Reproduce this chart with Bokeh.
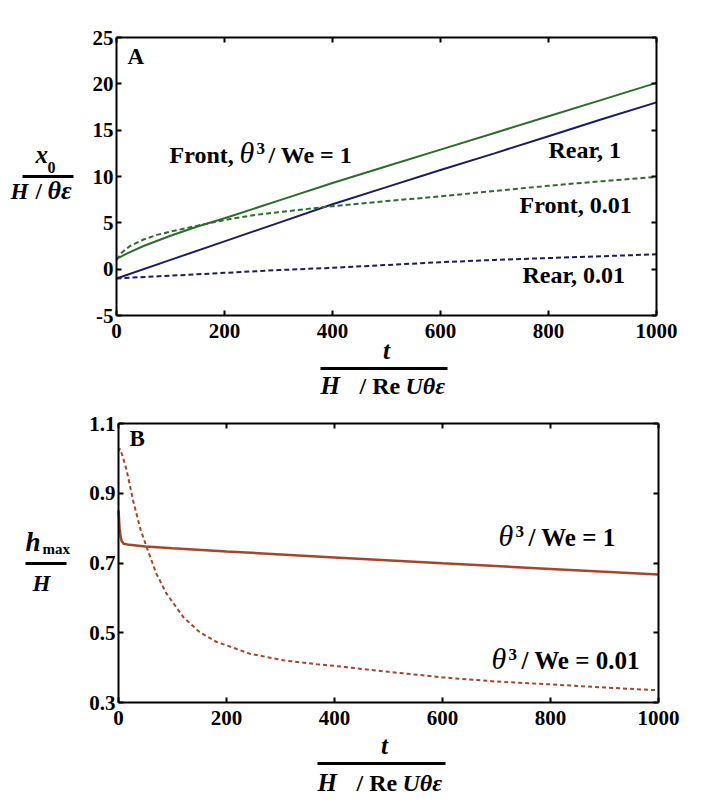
from bokeh.plotting import figure
from bokeh.models import Range1d, LinearAxis, Label, BoxAnnotation, FixedTicker
from bokeh.layouts import column
from bokeh.embed import file_html
from bokeh.resources import INLINE

# ---------------- data: panel A ----------------
t_front1 = [0, 20, 50, 100, 150, 200, 300, 400, 500, 600, 700, 800, 900, 1000]
x_front1 = [1.1, 1.7, 2.5, 3.6, 4.6, 5.5, 7.4, 9.3, 11.1, 12.9, 14.7, 16.5, 18.3, 20.1]

t_rear1 = [0, 100, 200, 300, 400, 500, 600, 700, 800, 900, 1000]
x_rear1 = [-1.0, 1.0, 3.0, 5.0, 7.0, 8.85, 10.7, 12.5, 14.35, 16.2, 18.0]

t_front001 = [0, 10, 25, 50, 75, 100, 150, 200, 250, 300, 400, 500, 600, 700, 800, 900, 1000]
x_front001 = [1.0, 1.8, 2.5, 3.2, 3.7, 4.05, 4.7, 5.3, 5.8, 6.15, 6.8, 7.35, 7.85, 8.45, 9.0, 9.5, 9.95]

t_rear001 = [0, 100, 200, 300, 400, 500, 600, 700, 800, 900, 1000]
x_rear001 = [-1.0, -0.7, -0.4, -0.1, 0.15, 0.45, 0.75, 1.0, 1.2, 1.4, 1.6]

xticks_a = [0, 200, 400, 600, 800, 1000]
yticks_a = [-5, 0, 5, 10, 15, 20, 25]
xlim_a = (0, 1000)
ylim_a = (-5, 25)

# ---------------- data: panel B ----------------
t_h1 = [0, 2, 4, 6, 10, 20, 50, 100, 200, 400, 600, 800, 1000]
h_1 = [0.85, 0.80, 0.775, 0.762, 0.755, 0.752, 0.747, 0.742, 0.733, 0.716, 0.699, 0.683, 0.667]

t_h001 = [0, 2.5, 8, 15, 27, 40, 52, 70, 89, 120, 150, 181, 200, 243, 305, 367, 400,
          500, 600, 700, 800, 900, 1000]
h_001 = [1.02, 1.028, 1.005, 0.966, 0.88, 0.80, 0.746, 0.67, 0.612, 0.545, 0.502, 0.474,
         0.464, 0.44, 0.421, 0.41, 0.405, 0.388, 0.372, 0.36, 0.352, 0.343, 0.335]

xticks_b = [0, 200, 400, 600, 800, 1000]
yticks_b = [0.3, 0.5, 0.7, 0.9, 1.1]
xlim_b = (0, 1000)
ylim_b = (0.3, 1.1)

GREEN = "#2f6b2f"
NAVY = "#1c1c60"
BROWN = "#a4462c"
FONT = "Liberation Serif"

W = 708
OX = 0          # page x of canvas left edge
OYA = 0         # page y of panel A canvas top
HA = 402
OYB = OYA + HA  # page y of panel B canvas top
HB = 400
BASE_FIX = 0.32  # Bokeh draws "alphabetic" text lower by about this * font size


class Mapper:
    """page pixel -> data coordinates for a panel whose box is given in page px."""

    def __init__(self, oy, h, box, xlim, ylim):
        left, right, top, bottom = box
        self.kx = (xlim[1] - xlim[0]) / (right - left)
        self.ky = (ylim[1] - ylim[0]) / (bottom - top)
        self.left, self.top = left, top
        self.x0, self.y1 = xlim[0], ylim[1]
        self.xr = (self.x(OX), self.x(OX + W))
        self.yr = (self.y(oy + h), self.y(oy))

    def x(self, px):
        return self.x0 + (px - self.left) * self.kx

    def y(self, py):
        return self.y1 - (py - self.top) * self.ky


def make_fig(m, h, xt, yt, xlim, ylim):
    p = figure(width=W, height=h, x_range=Range1d(*m.xr), y_range=Range1d(*m.yr),
               output_backend="svg", toolbar_location=None,
               x_axis_location=None, y_axis_location=None,
               min_border=0, min_border_left=0, min_border_right=0,
               min_border_top=0, min_border_bottom=0)
    p.grid.visible = False
    p.outline_line_color = None
    p.background_fill_color = "white"
    p.border_fill_color = "white"
    axes = {
        "left": LinearAxis(fixed_location=xlim[0], bounds=ylim, ticker=FixedTicker(ticks=yt)),
        "right": LinearAxis(fixed_location=xlim[1], bounds=ylim, ticker=FixedTicker(ticks=yt)),
        "below": LinearAxis(fixed_location=ylim[0], bounds=xlim, ticker=FixedTicker(ticks=xt)),
        "above": LinearAxis(fixed_location=ylim[1], bounds=xlim, ticker=FixedTicker(ticks=xt)),
    }
    for side, ax in axes.items():
        ax.axis_line_width = 2
        ax.axis_line_color = "black"
        ax.major_tick_in = 5
        ax.major_tick_out = 0
        ax.major_tick_line_width = 2
        ax.minor_tick_line_color = None
        ax.major_label_text_font = FONT
        ax.major_label_text_font_style = "bold"
        ax.major_label_text_font_size = "21px"
        ax.major_label_text_color = "black"
        if side in ("right", "above"):
            ax.major_label_text_color = None
        p.add_layout(ax, side)
    axes["below"].major_label_standoff = 8
    axes["left"].major_label_standoff = 3
    return p, axes


def lab(p, m, px, py, text, size, style="bold", align="left"):
    p.add_layout(Label(x=m.x(px), y=m.y(py - BASE_FIX * size), text=text, text_font=FONT,
                       text_font_style=style, text_font_size=f"{size}px",
                       text_color="black", text_align=align,
                       text_baseline="alphabetic"))


def bar(p, m, x0, x1, yc, th=3):
    p.add_layout(BoxAnnotation(left=m.x(x0), right=m.x(x1), top=m.y(yc - th / 2),
                               bottom=m.y(yc + th / 2), fill_color="black",
                               fill_alpha=1.0, line_color=None))


# ---------------- panel A ----------------
ma = Mapper(OYA, HA, (116, 656, 37, 315), xlim_a, ylim_a)
pa, axa = make_fig(ma, HA, xticks_a, yticks_a, xlim_a, ylim_a)
axa["left"].major_label_overrides = {-5: "-5"}
pa.line(t_front1, x_front1, line_color=GREEN, line_width=2)
pa.line(t_rear1, x_rear1, line_color=NAVY, line_width=2)
pa.line(t_front001, x_front001, line_color=GREEN, line_width=2, line_dash="5 3")
pa.line(t_rear001, x_rear001, line_color=NAVY, line_width=2, line_dash="5 3")

lab(pa, ma, 127, 63, "A", 23)
lab(pa, ma, 169, 162, "Front,", 24)
lab(pa, ma, 239, 162, "θ", 30, "italic")
lab(pa, ma, 256, 153, "3", 17)
lab(pa, ma, 268, 162, "/ We = 1", 24)
lab(pa, ma, 548, 157, "Rear, 1", 24)
lab(pa, ma, 519, 212, "Front, 0.01", 24)
lab(pa, ma, 522, 282, "Rear, 0.01", 24)

# y label A
lab(pa, ma, 35, 162, "x", 25, "bold italic")
lab(pa, ma, 47, 172, "0", 16)
bar(pa, ma, 22, 73, 176)
lab(pa, ma, 10, 198, "H", 23, "bold italic")
lab(pa, ma, 35, 198, "/", 23)
lab(pa, ma, 47, 198, "θε", 26, "bold italic")

# x label A
lab(pa, ma, 386, 358, "t", 25, "bold italic", "center")
bar(pa, ma, 320, 447, 368)
lab(pa, ma, 320, 393, "H", 25, "bold italic")
lab(pa, ma, 359, 393, "/ Re", 24)
lab(pa, ma, 405, 393, "Uθε", 24, "bold italic")

# ---------------- panel B ----------------
mb = Mapper(OYB, HB, (118, 658, 423, 702), xlim_b, ylim_b)
pb, axb = make_fig(mb, HB, xticks_b, yticks_b, xlim_b, ylim_b)
pb.line(t_h1, h_1, line_color=BROWN, line_width=2.5)
pb.line(t_h001, h_001, line_color=BROWN, line_width=2, line_dash="4 3")

lab(pb, mb, 129, 445, "B", 23)
lab(pb, mb, 498, 545, "θ", 30, "italic")
lab(pb, mb, 515, 536, "3", 17)
lab(pb, mb, 528, 545, "/ We = 1", 25)
lab(pb, mb, 491, 668, "θ", 30, "italic")
lab(pb, mb, 508, 659, "3", 17)
lab(pb, mb, 521, 668, "/ We = 0.01", 25)

# y label B
lab(pb, mb, 25, 550, "h", 27, "bold italic")
lab(pb, mb, 42, 553, "max", 15)
bar(pb, mb, 25, 66, 563)
lab(pb, mb, 32, 590, "H", 23, "bold italic")

# x label B
lab(pb, mb, 384, 753, "t", 25, "bold italic", "center")
bar(pb, mb, 317, 445, 763)
lab(pb, mb, 317, 790, "H", 25, "bold italic")
lab(pb, mb, 356, 790, "/ Re", 24)
lab(pb, mb, 402, 790, "Uθε", 24, "bold italic")

layout = column(pa, pb, spacing=0)
open("out.html", "w").write(file_html(layout, INLINE))
